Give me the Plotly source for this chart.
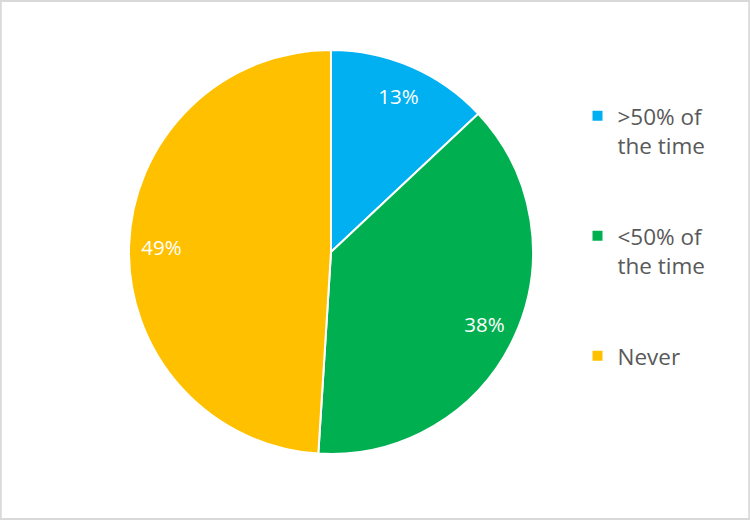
import plotly.graph_objects as go

categories = [">50% of<br>the time", "<50% of<br>the time", "Never"]
values = [13, 38, 49]
colors = ["#00B0F0", "#00B050", "#FFC000"]
label_text = ["13%", "38%", "49%"]

W, H = 750, 520
cx, cy, r = 331, 252, 202
dom_x = [(cx - r) / W, (cx + r) / W]
dom_y = [1 - (cy + r) / H, 1 - (cy - r) / H]

fig = go.Figure()
# main pie (slices + legend)
fig.add_trace(go.Pie(
    labels=[c + "<br> <br> " if i < 2 else c for i, c in enumerate(categories)],
    values=values,
    sort=False,
    direction="clockwise",
    rotation=0,
    marker=dict(colors=colors, line=dict(color="white", width=2)),
    textinfo="none",
    domain=dict(x=dom_x, y=dom_y),
    hoverinfo="label+percent",
))
# transparent ring for data labels positioned at ~0.84 radius
fig.add_trace(go.Pie(
    labels=categories,
    values=values,
    sort=False,
    direction="clockwise",
    rotation=0,
    hole=0.68,
    marker=dict(colors=["rgba(0,0,0,0)"] * 3, line=dict(width=0)),
    text=label_text,
    textinfo="text",
    textposition="inside",
    insidetextorientation="horizontal",
    textfont=dict(color="white", size=20.5, family="Open Sans"),
    showlegend=False,
    hoverinfo="skip",
    domain=dict(x=dom_x, y=dom_y),
))

fig.update_layout(
    width=W, height=H,
    margin=dict(l=0, r=0, t=0, b=0),
    paper_bgcolor="white",
    plot_bgcolor="white",
    font=dict(family="Open Sans", color="#595959"),
    legend=dict(
        x=0.770, y=0.818, xanchor="left", yanchor="top",
        valign="top",
        font=dict(size=22.5, color="#595959", family="Open Sans"),
        bgcolor="rgba(0,0,0,0)",
        traceorder="normal",
    ),
    shapes=[dict(type="rect", xref="paper", yref="paper", x0=0.001, y0=0.002, x1=0.999, y1=0.998,
                 line=dict(color="#D9D9D9", width=2), fillcolor="rgba(0,0,0,0)", layer="below")],
)

fig.write_html("out.html")
